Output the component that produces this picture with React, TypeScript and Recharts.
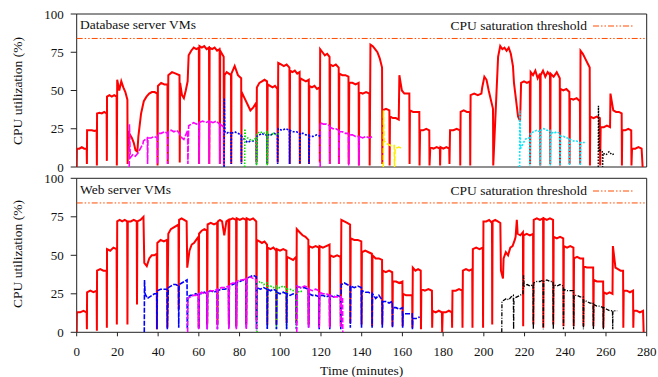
import React from 'react';
import { LineChart, Line, XAxis, YAxis, ReferenceLine, ReferenceArea } from 'recharts';

type Seg = [number, number, number[], number | null];

// ---------- Database server VMs (top panel) ----------
const dbRed: Seg[] = [
  [0, 0, [0], null], [0.1, 4.9, [12, 12, 13, 12, 12], 2], [5.1, 9.8, [24, 24, 24, 23.5, 24], 1],
  [10, 14.7, [35, 35.5, 35, 36, 35], 4], [14.9, 19.6, [46, 47, 46, 47, 46], 1],
  [19.9, 24.9, [57, 50, 56, 52, 49, 44], 2], [25.3, 29.8, [23, 21, 19, 16, 11, 10], null],
  [30.3, 39.6, [20, 35, 43, 46, 48, 49, 49, 48], 1], [39.9, 44.6, [53, 55, 54, 54], 2],
  [45, 50.5, [60, 62, 61, 60], 3], [50.8, 54.5, [55, 47, 45, 50, 56], null],
  [55, 60, [73, 76, 78, 77, 78], 2], [60.3, 65, [79, 78, 79, 77, 78], 2], [65.3, 70.2, [78, 77, 78, 76, 77], 2],
  [70.5, 72.2, [76, 74, 72], 1], [72.6, 75.8, [60, 62, 61, 60], 2], [76, 80.8, [61, 66, 60, 58], 3],
  [81, 88.2, [49, 45, 41, 37, 39, 42], 3], [88.5, 93.5, [52, 55, 56, 57, 56], 2], [93.8, 98.6, [54, 53, 52, 53, 51], 3],
  [99, 104.5, [68, 67, 66, 67, 65], 2], [104.8, 109.5, [63, 62, 63, 61, 62], 2], [109.8, 114, [58, 57, 56, 57], 2],
  [114.3, 119.3, [53, 52, 53, 51, 52], 3], [119.6, 124.2, [77, 75, 73, 74, 72], 2], [124.5, 128.7, [67, 66, 67, 65], 2],
  [129, 133.5, [61, 60, 60, 59], 2], [133.9, 138.5, [55, 55, 54, 55], 1], [138.8, 143.8, [49, 48, 49, 48], 1],
  [144.3, 150, [80, 79, 77, 75, 71, 65], 2], [150.3, 153.6, [37, 38, 37], 1], [153.9, 158.2, [33, 32, 32, 31], null],
  [158.5, 163.4, [60, 50, 48, 48, 48], 2], [163.7, 168.3, [37, 36, 36, 36], 1], [168.7, 173.2, [24, 24, 25, 24], 1],
  [173.7, 178.4, [13, 12, 13, 12], 1], [178.7, 183, [13, 12, 13, 12], 2], [183.4, 188.3, [24, 24, 25, 24], 1],
  [188.6, 193.2, [36, 37, 36, 36], 1], [193.5, 198.8, [47, 48, 47, 48], null], [199.2, 204.5, [52, 59, 57, 50, 44, 38], 1],
  [207, 214.3, [72, 79, 77, 78, 76, 78, 74, 66], null], [214.8, 217.8, [55, 44, 33, 30], null],
  [218.3, 222.6, [55, 56, 55, 56], 2], [223, 227.6, [62, 60, 63, 58, 61], 1], [227.9, 232.5, [60, 63, 59, 62, 60], 2],
  [232.8, 237.3, [61, 59, 62, 58], 1], [237.6, 242, [51, 50, 51, 49], 2], [242.3, 247.2, [45, 44, 45, 43], 2],
  [247.5, 252, [76, 74, 71, 68, 65], 1], [252.3, 257, [33, 32, 33, 32], 1], [257.4, 262, [26, 26, 27, 26], null],
  [262.2, 267.7, [48, 37, 36, 36, 35], 1], [268, 272.4, [24, 24, 25, 24], 1], [272.8, 277.5, [12, 12, 13, 12], null],
  [278, 278, [0], null],
];
const dbMagenta: Seg[] = [
  [25.8, 25.8, [0], null], [25.9, 25.9, [28], null], [26.3, 32.5, [6, 8, 7, 9, 12, 15], null],
  [32.8, 34.7, [17, 18, 19], 2], [35, 39.6, [19, 19, 20, 19], 2], [39.9, 44.6, [22, 22, 23, 22], 2],
  [45, 50.5, [23, 24, 23, 24, 22], null], [50.8, 54.5, [21, 19, 18, 21, 24], 2], [55, 60, [27, 28, 29, 28, 29], 2],
  [60.3, 65, [29, 30, 29, 30], 2], [65.3, 70.2, [30, 29, 30, 28], 2], [70.5, 72.2, [28, 27, 26], 0],
  [100, 100, [], null],
  [119.6, 119.6, [0], null], [119.7, 124.2, [29, 28, 28, 27], 2], [124.5, 128.7, [26, 25, 25, 24], 2],
  [129, 133.5, [23, 23, 22, 22], 1], [133.9, 138.5, [21, 21, 20, 20], 1], [138.8, 145.4, [20, 19, 20, 19, 20], null],
];
const dbBlue: Seg[] = [
  [72.4, 72.4, [0], null], [72.5, 72.5, [45], null], [72.8, 75.8, [23, 22, 23, 22], 2], [76, 80.8, [22, 23, 22, 21], 2],
  [81, 88.2, [20, 18, 16, 17, 17, 18], 2], [88.5, 93.5, [20, 21, 22, 21, 21], 2], [93.8, 98.6, [21, 21, 22, 21], 2],
  [99, 104.5, [25, 24, 25, 24], 2], [104.8, 109.5, [24, 23, 23, 22], 2], [109.8, 114, [22, 22, 21, 21], 2],
  [114.3, 119.8, [20, 20, 21, 20], null],
];
const dbGreen: Seg[] = [
  [82.5, 82.5, [0], null], [82.6, 82.6, [25], null], [82.9, 88.2, [20, 19, 18, 17, 18, 19], 1],
  [88.5, 93.5, [22, 23, 22, 23], 1], [93.8, 99.5, [22, 21, 22, 21, 22], null],
];
const dbYellow: Seg[] = [
  [150.6, 150.6, [0], null], [150.7, 150.7, [37], null], [151, 156, [17, 15, 14, 14], 0], [156.4, 160, [12, 13, 12], null],
];
const dbCyan: Seg[] = [
  [217.6, 217.6, [0], null], [217.7, 217.7, [37], null], [218, 222.5, [12, 16, 19, 19], 1],
  [222.9, 227.5, [22, 23, 24, 23], 1], [227.9, 232.5, [24, 25, 24, 24], 1], [232.8, 237.3, [23, 22, 23, 22], 1],
  [237.6, 242, [20, 20, 19, 19], 1], [242.3, 247.2, [18, 17, 17, 16], 1], [247.5, 249.6, [16, 16], null],
];
const dbBlack: Seg[] = [
  [256.2, 256.2, [0], null], [256.3, 256.3, [40], null], [256.6, 258.2, [10, 11, 10], 0], [258.6, 264.4, [9, 8, 10, 8, 9], null],
];

// ---------- Web server VMs (bottom panel) ----------
const webRed: Seg[] = [
  [0, 0, [0], null], [0.1, 4.9, [13, 13, 14, 13], 2], [5.1, 9.8, [26, 27, 26, 27], 1], [10, 14.7, [40, 41, 40, 40], 3],
  [14.9, 19.6, [54, 53, 55, 54], 5], [19.9, 24.8, [72, 73, 72, 73, 72], 5], [25.1, 29.5, [72, 72, 73, 72], 18],
  [29.8, 32.8, [72, 73, 75], null], [33.2, 39.3, [45, 43, 48, 50, 50, 51], 2], [39.6, 44.4, [58, 60, 59, 60], 3],
  [45, 50, [64, 67, 68, 69, 70], 15], [50.3, 54, [73, 74, 73, 72], null], [54.3, 59.8, [42, 53, 57, 58, 60, 62], 3],
  [60.1, 64, [64, 66, 67, 66], 5], [64.3, 69, [70, 71, 70, 71], 5], [69.3, 74.6, [72, 73, 72, 63, 72, 73], 5],
  [75, 78.3, [73, 74, 73], 4], [78.6, 83.2, [74, 73, 74, 73], 5], [83.5, 88.2, [74, 73, 74, 72], 8],
  [88.5, 93.5, [60, 59, 58, 59, 57], 5], [93.8, 98, [55, 54, 55, 53], 5], [98.3, 103, [54, 53, 54, 53], 6],
  [103.3, 107.8, [49, 48, 47, 49], 6], [108.1, 113.8, [67, 65, 63, 62, 60], 5], [114.1, 119, [56, 55, 56, 55], 4],
  [119.3, 124.2, [56, 55, 56, 57], 4], [124.5, 129.6, [50, 49, 50, 49], 4], [130, 134.3, [73, 72, 71, 70], 6],
  [134.6, 139.8, [61, 60, 60, 59], 5], [140.1, 145, [52, 53, 52, 51], 4], [145.3, 150, [50, 48, 48, 47], 5],
  [150.3, 155, [40, 39, 40, 39], 4], [155.3, 160, [33, 33, 32, 33], 4], [160.3, 164.8, [25, 24, 24, 24], 3],
  [165.1, 169, [42, 40, 41, 40], 2], [169.3, 174.5, [28, 27, 28, 27], 3], [174.8, 179.4, [14, 13, 14, 13], 0],
  [179.8, 184.3, [13, 13, 14, 13], 3], [184.6, 189.4, [27, 27, 28, 27], 3], [189.7, 194.3, [40, 41, 40, 41], 3],
  [194.6, 199.5, [54, 55, 54, 55], 3], [199.8, 204, [72, 72, 73, 71], 5], [204.3, 208.1, [72, 73, 72, 71], null],
  [208.4, 209.4, [40, 35], null], [209.7, 215.2, [48, 52, 50, 55, 56, 60], null], [215.6, 216.2, [62, 73], null],
  [216.6, 219.2, [64, 63, 65], 4], [219.5, 224.2, [63, 64, 63, 64], 5], [224.5, 229.1, [73, 74, 73, 74], 3],
  [229.4, 234, [74, 73, 74, 73], 5], [234.3, 239, [62, 61, 62, 61], 4], [239.3, 244, [56, 55, 56, 55], 4],
  [244.3, 248.8, [48, 49, 48, 48], 4], [249.1, 253.7, [43, 42, 42, 42], 4], [254, 258.6, [34, 33, 33, 33], 3],
  [258.9, 263.2, [26, 25, 26, 25], null], [263.4, 268.4, [56, 42, 41, 40, 40], 3], [268.7, 273.3, [27, 27, 26, 27], 3],
  [273.6, 278.2, [14, 14, 13, 14], null], [278.5, 278.5, [0], null],
];
const webBlue: Seg[] = [
  [33.2, 33.2, [0], null], [33.3, 33.3, [34], null], [33.6, 39.3, [25, 22, 23, 24, 25, 25], 2],
  [39.6, 44.4, [27, 28, 28, 28], 2], [45, 50, [29, 30, 31, 31, 30], 3], [50.3, 54.2, [31, 32, 33, 34], 2],
  [54.6, 59.8, [23, 24, 24, 25, 24], 2], [60.1, 64, [25, 25, 26, 25], 2], [64.3, 69, [26, 27, 26, 27], 2],
  [69.3, 74.6, [27, 28, 28, 29], 3], [75, 78.3, [30, 31, 32], 3], [78.6, 83.2, [32, 33, 34, 33], 3],
  [83.5, 88.2, [35, 36, 37, 36], 2], [88.5, 93.5, [29, 28, 29, 28], 2], [93.8, 98, [28, 27, 28, 27], 2],
  [98.3, 103, [26, 25, 26, 25], 2], [103.3, 107.8, [25, 24, 25, 24], 2], [108.1, 113.8, [30, 29, 29, 28], 3],
  [114.1, 119, [25, 24, 24, 23], 2], [119.3, 124.2, [24, 24, 23, 24], 2], [124.5, 129.6, [24, 23, 24, 23], 2],
  [130, 134.3, [31, 32, 31, 30], 3], [134.6, 139.8, [30, 29, 30, 29], 3], [140.1, 145, [27, 26, 26, 25], 3],
  [145.3, 150, [25, 22, 24, 21], 3], [150.3, 155, [20, 20, 19, 20], 3], [155.3, 160, [16, 16, 15, 16], 3],
  [160.3, 164.8, [12, 12, 12, 12], 2], [165.1, 168.5, [9, 9, 10], null],
];
const webMagenta: Seg[] = [
  [54.5, 54.5, [0], null], [54.6, 59.8, [22, 23, 24, 24, 25], 2], [60.1, 64, [25, 26, 25, 26], 2],
  [64.3, 69, [26, 27, 27, 28], 2], [69.3, 74.6, [28, 29, 29, 30], 2], [75, 78.3, [31, 32, 32], 2],
  [78.6, 83.2, [33, 34, 34, 35], 2], [83.5, 88.2, [35, 36, 35, 34], 1],
  [98, 98, [], null],
  [108.1, 108.1, [0], null], [108.2, 113.8, [30, 29, 30, 29], 3], [114.1, 119, [28, 27, 28, 27], 3],
  [119.3, 124.2, [26, 25, 25, 24], 3], [124.5, 129.6, [24, 23, 23, 23], 3], [129.9, 130.6, [23, 23], 0],
];
const webGreen: Seg[] = [
  [88.6, 88.6, [0], null], [88.7, 93.5, [32, 33, 31, 32], 2], [93.8, 98, [30, 30, 29, 30], 2],
  [98.3, 103, [29, 29, 30, 29], 2], [103.3, 107.8, [28, 28, 27, 28], 2], [108.1, 110.9, [27, 26, 27], null],
];
const webBlack: Seg[] = [
  [208.8, 208.8, [0], null], [208.9, 214.5, [20, 21, 22, 21, 23, 24], 2], [214.8, 219.2, [22, 23, 24, 25], null],
  [219.5, 219.5, [37], null], [219.8, 224.2, [30, 31, 30, 31], 2], [224.5, 229.1, [32, 33, 33, 34], 2],
  [229.4, 234, [33, 34, 33, 33], 2], [234.3, 239, [31, 30, 31, 30], 2], [239.3, 244, [28, 27, 27, 27], 2],
  [244.3, 248.8, [24, 24, 23, 23], 2], [249.1, 253.7, [21, 20, 19, 19], 2], [254, 258.6, [18, 17, 17, 16], 2],
  [258.9, 263.2, [16, 15, 14, 14], 2], [263.4, 265.5, [14, 14], null],
];

const xTicks = [0, 20, 40, 60, 80, 100, 120, 140, 160, 180, 200, 220, 240, 260, 280];
const yTicks = [0, 25, 50, 75, 100];
const THRESHOLD = 84;
const topTitle = 'Database server VMs';
const bottomTitle = 'Web server VMs';
const legendLabel = 'CPU saturation threshold';
const yLabel = 'CPU utilization (%)';
const xLabel = 'Time (minutes)';

// segment with no values = a break in the line
const build = (segs: Seg[]) => {
  const pts: { t: number; v: number | null }[] = [];
  for (const [t0, t1, vals, dip] of segs) {
    const n = vals.length;
    if (n === 0) {
      pts.push({ t: t0, v: null });
      continue;
    }
    vals.forEach((v, i) => pts.push({ t: n === 1 ? t0 : t0 + (i * (t1 - t0)) / (n - 1), v }));
    if (dip !== null) pts.push({ t: t1 + 0.12, v: dip });
  }
  return pts;
};

const FONT = '"Liberation Serif", "Times New Roman", Times, serif';
const TH_COLOR = '#ff4d00';
const TH_DASH = '6 2 1.5 2 1.5 2';
const tickStyle = { fill: '#111', fontSize: 13, fontFamily: FONT };

type S = { segs: Seg[]; color: string; dash?: string; w?: number };

const topSeries: S[] = [
  { segs: dbRed, color: '#ff0000', w: 2 },
  { segs: dbMagenta, color: '#ff00ff', dash: '6 1.5', w: 1.6 },
  { segs: dbBlue, color: '#0000ff', dash: '2 1.5', w: 1.6 },
  { segs: dbGreen, color: '#00e000', dash: '1.5 1.5', w: 1.6 },
  { segs: dbYellow, color: '#ffee00', dash: '5 2', w: 1.6 },
  { segs: dbCyan, color: '#00e8ff', dash: '2 1.5', w: 1.6 },
  { segs: dbBlack, color: '#000000', dash: '1.5 1.5', w: 1.4 },
];
const bottomSeries: S[] = [
  { segs: webRed, color: '#ff0000', w: 2 },
  { segs: webGreen, color: '#00e000', dash: '1.5 1.5', w: 1.6 },
  { segs: webBlue, color: '#0000ff', dash: '5 1.5', w: 1.6 },
  { segs: webMagenta, color: '#ff00ff', dash: '5 1.5', w: 1.6 },
  { segs: webBlack, color: '#000000', dash: '4 1.5 1 1.5', w: 1.3 },
];

const Panel = ({ series, height, margin, showX }: { series: S[]; height: number; margin: any; showX: boolean }) => (
  <LineChart width={658} height={height} margin={margin}>
    <XAxis
      type="number"
      dataKey="t"
      domain={[0, 280]}
      ticks={xTicks}
      hide={!showX}
      axisLine={false}
      tickSize={4}
      tickMargin={10}
      tick={tickStyle}
      tickLine={{ stroke: '#222' }}
      height={30}
      allowDataOverflow
    />
    <YAxis
      type="number"
      domain={[0, 100]}
      ticks={yTicks}
      width={76.7}
      axisLine={false}
      tickSize={6}
      tickMargin={7}
      tick={tickStyle}
      tickLine={{ stroke: '#222' }}
      allowDataOverflow
    />
    <ReferenceLine y={THRESHOLD} stroke={TH_COLOR} strokeDasharray={TH_DASH} strokeWidth={1} />
    {series.map((s, i) => (
      <Line
        key={i}
        data={build(s.segs)}
        dataKey="v"
        type="linear"
        stroke={s.color}
        strokeWidth={s.w ?? 1.4}
        strokeDasharray={s.dash}
        dot={false}
        activeDot={false}
        connectNulls={false}
        isAnimationActive={false}
      />
    ))}
    <ReferenceArea x1={0} x2={280} y1={0} y2={100} fill="none" stroke="#222" strokeWidth={1} />
  </LineChart>
);

const txt = (s: React.CSSProperties): React.CSSProperties => ({
  position: 'absolute',
  fontFamily: FONT,
  fontSize: 13.5,
  lineHeight: '16px',
  height: 16,
  whiteSpace: 'nowrap',
  color: '#111',
  ...s,
});

const LegendItem = ({ y }: { y: number }) => (
  <>
    <div style={txt({ right: 658 - 587, top: y - 8, textAlign: 'right' })}>{legendLabel}</div>
    <svg style={{ position: 'absolute', left: 592, top: y - 3 }} width={42} height={6}>
      <line x1={1} y1={3} x2={41} y2={3} stroke={TH_COLOR} strokeWidth={1} strokeDasharray={TH_DASH} />
    </svg>
  </>
);

export default function App() {
  return (
    <div style={{ position: 'absolute', left: 0, top: 0, width: 658, height: 377, background: '#fff', overflow: 'hidden' }}>
      <div style={{ position: 'absolute', left: 0, top: 0 }}>
        <Panel series={topSeries} height={175} margin={{ top: 14, right: 11.3, bottom: 8, left: 0 }} showX={false} />
      </div>
      <div style={{ position: 'absolute', left: 0, top: 170 }}>
        <Panel series={bottomSeries} height={207} margin={{ top: 8.3, right: 11.3, bottom: 14.7, left: 0 }} showX={true} />
      </div>
      <div style={txt({ left: 80, top: 17 })}>{topTitle}</div>
      <div style={txt({ left: 80, top: 182 })}>{bottomTitle}</div>
      <LegendItem y={26} />
      <LegendItem y={191} />
      <div style={txt({ left: 17.5, top: 90.7, transform: 'translate(-50%, -50%) rotate(-90deg)', height: 'auto' })}>{yLabel}</div>
      <div style={txt({ left: 17.5, top: 254, transform: 'translate(-50%, -50%) rotate(-90deg)', height: 'auto' })}>{yLabel}</div>
      <div style={txt({ left: 361.7, top: 363, transform: 'translateX(-50%)' })}>{xLabel}</div>
    </div>
  );
}
